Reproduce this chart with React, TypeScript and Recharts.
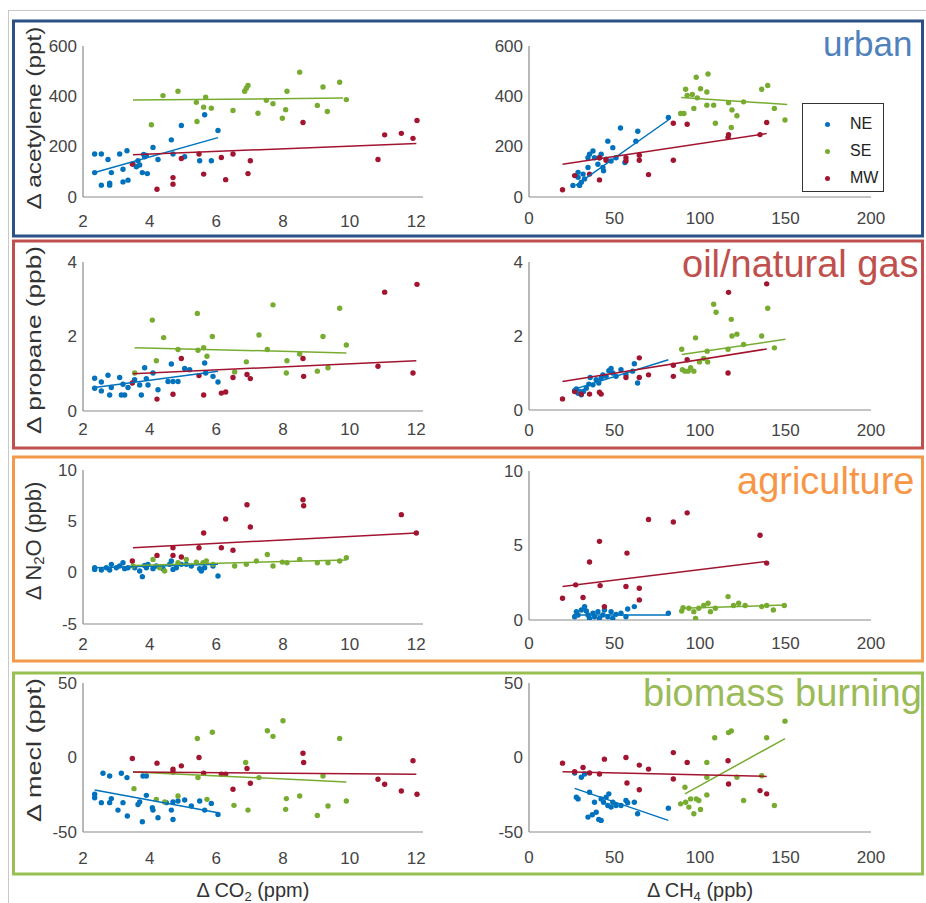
import React from 'react';
import { ScatterChart, Scatter, XAxis, YAxis } from 'recharts';

type Pt = [number, number];

const FONT = '"Liberation Sans", Arial, Helvetica, sans-serif';
const NE_COLOR = '#0072bd';
const SE_COLOR = '#77ac30';
const MW_COLOR = '#a2142f';

// tick labels
const co2Ticks = [2, 4, 6, 8, 10, 12];
const ch4Ticks = [0, 50, 100, 150, 200];
const acetyleneTicks = [0, 200, 400, 600];
const propaneTicks = [0, 2, 4];
const n2oTicksLeft = [-5, 0, 5, 10];
const n2oTicksRight = [0, 5, 10];
const meclTicks = [-50, 0, 50];

// ---- acetylene vs CO2 ----
const acCO2_NE: Pt[] = [[2.35,171],[2.35,97],[2.55,171],[2.75,149],[2.55,47],[2.8,47],[2.8,55],[2.85,97],[3.1,171],[3.2,110],[3.32,184],[3.2,60],[3.35,67],[3.5,131],[3.65,144],[3.7,127],[3.78,97],[3.82,169],[3.85,160],[3.93,93],[4.1,197],[4.25,149],[4.65,227],[4.7,171],[4.95,284],[5.05,160],[5.5,144],[5.65,327],[5.85,144],[6.05,264],[3.6,120],[3.9,165]];
const acCO2_SE: Pt[] = [[4.05,287],[4.4,403],[4.85,420],[5.4,376],[5.42,300],[5.68,397],[5.62,357],[5.85,353],[6.5,344],[6.85,420],[6.95,443],[6.9,432],[7.25,333],[7.5,384],[7.7,371],[7.98,313],[8.08,347],[8.12,420],[8.5,496],[9.03,364],[9.2,437],[9.33,340],[9.7,456],[9.9,387]];
const acCO2_MW: Pt[] = [[3.48,131],[4.22,31],[4.7,77],[4.7,51],[4.95,153],[5.48,171],[5.62,91],[6.15,157],[6.28,69],[6.5,171],[6.95,93],[7.02,144],[8.6,296],[10.85,149],[11.05,247],[11.55,253],[11.9,233],[12.02,304]];
const acCO2_fits: Pt[][] = [[[2.35,97],[6.05,236]], [[3.5,385],[9.8,393]], [[3.5,168],[12,213]]];

// ---- acetylene vs CH4 ----
const acCH4_NE: Pt[] = [[25.7,46],[28.7,78],[28.7,98],[29.6,46],[30.6,59],[31.6,91],[32.5,72],[34.5,117],[34.5,156],[35.4,170],[37.4,183],[38.3,156],[40.3,130],[41.2,156],[42.2,170],[43.2,117],[43.6,104],[45.1,150],[46.1,222],[48,143],[49,196],[50.9,156],[53.5,274],[56.1,137],[62.5,222],[63.6,261],[81.5,316]];
const acCH4_SE: Pt[] = [[88.7,332],[90.6,332],[91.6,428],[92.5,404],[95.5,407],[96.4,352],[97.8,476],[98.4,394],[100.3,430],[104,417],[104.7,489],[104,365],[108,365],[109,293],[116.7,375],[118.3,276],[118.7,346],[121.6,323],[125.5,378],[136.1,428],[139.6,443],[143.5,352],[149.7,306]];
const acCH4_MW: Pt[] = [[19.6,29],[26.7,85],[35.4,91],[41.2,68],[41.2,156],[45.1,146],[56.7,156],[56.7,143],[64.5,166],[64.5,146],[69.9,89],[84.4,293],[84.4,146],[92.5,289],[116.4,237],[116.7,248],[135.1,248],[139,296]];
const acCH4_fits: Pt[][] = [[[27.3,46],[81.5,306]], [[89,395],[151,368]], [[19.6,130],[139,252]]];

// ---- propane vs CO2 ----
const prCO2_NE: Pt[] = [[2.35,0.88],[2.35,0.61],[2.55,0.78],[2.55,0.54],[2.75,0.96],[2.8,0.43],[2.85,0.63],[3.1,0.9],[3.15,0.43],[3.2,0.72],[3.25,0.43],[3.35,0.63],[3.55,0.84],[3.7,0.7],[3.75,0.43],[3.85,1.16],[3.9,0.87],[3.95,0.7],[4.1,1.02],[4.25,0.57],[4.55,0.79],[4.65,1.26],[4.7,0.79],[4.85,0.79],[5.05,1.14],[5.2,1.11],[5.65,1.29],[5.68,1.02],[5.9,0.93],[6.05,0.78]];
const prCO2_SE: Pt[] = [[3.55,1.02],[4.08,2.44],[4.2,1.35],[4.42,1.97],[4.85,1.65],[5.43,2.62],[5.45,1.63],[5.62,1.7],[5.72,1.47],[5.88,2.0],[6.55,1.05],[6.9,1.32],[7.28,2.04],[7.53,1.65],[7.7,2.85],[8.12,1.35],[8.1,1.02],[8.5,1.53],[9.03,1.07],[9.2,2.0],[9.35,1.16],[9.7,2.76],[9.9,1.77]];
const prCO2_MW: Pt[] = [[3.48,0.75],[4.22,0.32],[4.7,0.45],[4.95,1.41],[5.48,0.95],[5.62,0.43],[6.15,0.48],[6.28,0.51],[6.5,0.9],[6.92,0.98],[7.02,0.87],[8.6,1.41],[8.62,0.93],[10.85,1.2],[11.05,3.19],[11.9,1.02],[12.02,3.4]];
const prCO2_fits: Pt[][] = [[[2.35,0.63],[6.05,1.07]], [[3.55,1.7],[9.9,1.56]], [[3.5,1.0],[12,1.35]]];

// ---- propane vs CH4 ----
const prCH4_NE: Pt[] = [[26.7,0.52],[27.7,0.57],[28.7,0.45],[29.6,0.5],[30.6,0.41],[31.9,0.5],[33.5,0.59],[35,0.7],[35.8,0.88],[37.4,0.68],[39.3,0.82],[40.8,0.73],[42.2,0.86],[43.2,0.95],[45.1,0.91],[46.7,1.06],[48,1.12],[49,1.0],[50.9,0.91],[53.8,1.09],[56.7,0.95],[60.6,1.05],[61.6,1.25],[63.5,0.73]];
const prCH4_SE: Pt[] = [[89.3,1.64],[89.7,1.09],[91.2,1.05],[93.1,1.05],[94.5,1.14],[96.4,1.05],[97.4,1.95],[99.7,1.3],[102.2,1.39],[104.2,1.59],[104.5,1.3],[108,2.86],[109.4,2.64],[116.4,1.64],[118.3,2.45],[118.7,2.0],[121.6,2.05],[125.5,1.77],[136.1,2.0],[139.6,2.75],[143.5,1.68]];
const prCH4_MW: Pt[] = [[19.6,0.3],[26.7,0.5],[30.6,0.43],[35.4,0.43],[41.2,0.48],[42.2,0.43],[56.7,0.88],[64.5,1.41],[64.5,0.88],[69.9,0.95],[84.4,1.21],[84.4,0.91],[92.5,1.36],[116.7,3.18],[116.4,1.0],[139,3.41]];
const prCH4_fits: Pt[][] = [[[25.7,0.55],[81.5,1.36]], [[89.3,1.5],[150,1.91]], [[19.6,0.77],[139,1.65]]];

// ---- N2O vs CO2 ----
const n2CO2_NE: Pt[] = [[2.35,0.48],[2.35,0.32],[2.55,0.26],[2.7,0.48],[2.8,0.26],[2.85,0.81],[3.0,0.48],[3.1,0.65],[3.2,0.97],[3.25,0.39],[3.35,0.48],[3.55,0.48],[3.7,0.16],[3.78,-0.39],[3.85,0.71],[3.9,0.48],[3.95,0.81],[4.1,0.39],[4.2,0.65],[4.4,0.39],[4.6,0.81],[4.65,1.13],[4.7,0.32],[4.8,0.48],[4.95,0.81],[5.1,0.81],[5.25,0.65],[5.5,0.39],[5.55,0.16],[5.65,0.48],[5.9,0.65],[6.05,-0.32]];
const n2CO2_SE: Pt[] = [[3.5,0.65],[4.1,1.29],[4.3,0.48],[4.45,0.16],[4.85,0.97],[5.1,1.29],[5.4,1.03],[5.6,0.97],[5.7,1.13],[5.9,0.81],[6.55,0.65],[6.9,0.81],[7.2,1.13],[7.53,1.77],[7.7,0.65],[7.98,1.03],[8.12,0.97],[8.5,1.29],[9.03,0.97],[9.35,0.97],[9.7,1.13],[9.9,1.45]];
const n2CO2_MW: Pt[] = [[3.48,1.13],[4.22,1.68],[4.7,2.42],[4.7,1.68],[4.95,1.52],[5.48,2.42],[5.62,3.87],[6.15,2.42],[6.28,5.23],[6.5,2.19],[6.92,6.61],[7.02,4.45],[8.6,7.1],[8.62,6.52],[11.55,5.65],[12.0,3.87]];
const n2CO2_fits: Pt[][] = [[[2.35,0.48],[6.05,0.81]], [[3.5,0.71],[9.9,1.23]], [[3.5,2.42],[12,3.87]]];

// ---- N2O vs CH4 ----
const n2CH4_NE: Pt[] = [[26.7,0.22],[27.7,0.56],[28.7,0.34],[30.6,0.67],[32.5,0.9],[33.5,0.6],[34.5,0.34],[35.4,0.11],[37.4,0.45],[38.3,0.22],[40.3,0.56],[41.2,0.11],[43.2,0.34],[44.1,0.67],[46.1,0.22],[48,0.56],[49,0.11],[50.9,0.38],[53.8,0.45],[56.7,0.22],[57.7,0.74],[61.6,0.9],[81.5,0.45]];
const n2CH4_SE: Pt[] = [[89.3,0.6],[90.1,0.83],[93.5,0.79],[96.4,0.56],[97.4,0.11],[99.3,0.79],[102.2,0.97],[104.7,1.12],[106.1,0.56],[109,0.79],[116.4,1.57],[119.6,0.97],[122.6,1.12],[126.4,0.97],[136.1,0.9],[139,0.97],[142.9,0.67],[149.3,0.97]];
const n2CH4_MW: Pt[] = [[19.6,1.46],[27.3,2.36],[31.6,1.51],[35.4,3.89],[41.2,5.28],[41.6,2.31],[44.1,0.9],[57.3,4.49],[56.7,2.25],[64.5,2.13],[64.5,1.35],[69.9,6.74],[84.4,6.58],[92.5,7.19],[135.1,5.69],[139,3.82]];
const n2CH4_fits: Pt[][] = [[[25.7,0.34],[81.5,0.34]], [[89.3,0.79],[150,1.01]], [[19.6,2.25],[139,3.93]]];

// ---- mecl vs CO2 ----
const mcCO2_NE: Pt[] = [[2.35,-24.7],[2.35,-27],[2.55,-30.3],[2.6,-10.6],[2.8,-12.4],[2.8,-30.3],[2.85,-27.6],[3.05,-35.3],[3.15,-10.6],[3.2,-30.3],[3.32,-13.5],[3.33,-39.3],[3.65,-31.5],[3.7,-29.9],[3.78,-43.1],[3.8,-12.4],[3.9,-12.4],[3.9,-25.4],[4.08,-33.7],[4.1,-35.3],[4.25,-40.4],[4.5,-30.3],[4.65,-35.3],[4.7,-41.6],[4.7,-29.9],[4.85,-29.2],[5.05,-28.5],[5.25,-32.6],[5.5,-29.2],[5.65,-35.3],[5.85,-30.8],[6.05,-38.2]];
const mcCO2_SE: Pt[] = [[3.53,-20.9],[4.2,-28.1],[4.45,-29.9],[4.85,-25.8],[5.43,12.8],[5.45,-13.5],[5.72,-28.1],[5.88,16.9],[6.53,-32.1],[6.88,-3.4],[6.95,-35.3],[7.28,-13.5],[7.53,18],[7.7,14.2],[8.0,24.7],[8.1,-27.6],[8.08,-34.8],[8.5,-25.8],[9.03,-38.9],[9.2,-12.4],[9.35,-32.6],[9.7,12.8],[9.9,-29.2]];
const mcCO2_MW: Pt[] = [[3.48,-0.7],[4.22,-3.8],[4.7,-7.9],[4.7,-9.7],[4.95,-5.6],[5.48,0],[5.62,-10.6],[6.15,-11.2],[6.28,-11.2],[6.5,-21.3],[6.92,-7.4],[7.02,-17.3],[8.6,2.9],[8.62,-3.4],[10.85,-14.6],[11.05,-18],[11.55,-22.5],[11.9,-2.2],[12.02,-24.7]];
const mcCO2_fits: Pt[][] = [[[2.35,-21.8],[6.05,-37.1]], [[3.5,-9.7],[9.9,-16.4]], [[3.5,-9.7],[12,-11.2]]];

// ---- mecl vs CH4 ----
const mcCH4_NE: Pt[] = [[26.7,-10.4],[27.7,-26.7],[28.7,-27.8],[30.6,-13.3],[32.5,-11.1],[34.5,-40],[35.4,-23.3],[37,-38.4],[38.3,-30],[39.3,-36.7],[40.8,-41.6],[42.2,-27.8],[42.2,-42.2],[43.6,-30],[45.1,-26.7],[46.1,-32.2],[46.7,-24.4],[48,-33.3],[49,-30],[50.9,-32.2],[53.8,-32.2],[56.7,-28.9],[57.7,-30.4],[61.6,-30],[63.5,-37.8],[81.5,-34]];
const mcCH4_SE: Pt[] = [[88.7,-31.1],[91.2,-20],[91.6,-30],[93.5,-33.3],[94.5,-27.8],[96.4,-37.8],[97.8,-27.8],[99.3,-28.9],[100.3,-34.9],[104,-3.3],[104,-13.3],[104,-25.1],[108.6,13.3],[116.7,16.7],[118.3,17.8],[121.6,-13.3],[125.5,-28.9],[136.1,-12.2],[139,13.3],[143.5,-32.2],[149.7,24.4]];
const mcCH4_MW: Pt[] = [[19.6,-3.8],[26.7,-9.6],[31.6,-6.7],[35.4,-10.4],[41.2,-11.1],[44.1,-1.1],[56.7,0],[57.3,-17.1],[64.5,-5.1],[64.5,-21.6],[69.9,-7.8],[84.4,3.3],[84.4,-14.4],[92.5,-3.3],[116.4,-2.2],[116.7,-17.8],[135.1,-22.2],[139,-24.4]];
const mcCH4_fits: Pt[][] = [[[26.7,-20.7],[81.5,-42.2]], [[91.2,-24.4],[149.7,12.7]], [[19.6,-9.6],[139,-12.7]]];

interface PanelDef {
  left: number; top: number; w: number; h: number;
  xDomain: [number, number]; xTicks: number[];
  yDomain: [number, number]; yTicks: number[];
  series: Pt[][]; fits: Pt[][];
  xTickOff: number;
}

const L = { left: 83, w: 340, xDomain: [2, 12.2] as [number, number], xTicks: co2Ticks };
const R = { left: 529, w: 342, xDomain: [0, 200] as [number, number], xTicks: ch4Ticks };

const panels: PanelDef[] = [
  { ...L, top: 46, h: 151, yDomain: [0, 600], yTicks: acetyleneTicks, series: [acCO2_NE, acCO2_SE, acCO2_MW], fits: acCO2_fits, xTickOff: 24 },
  { ...R, top: 46, h: 151, yDomain: [0, 600], yTicks: acetyleneTicks, series: [acCH4_NE, acCH4_SE, acCH4_MW], fits: acCH4_fits, xTickOff: 21 },
  { ...L, top: 262, h: 149, yDomain: [0, 4], yTicks: propaneTicks, series: [prCO2_NE, prCO2_SE, prCO2_MW], fits: prCO2_fits, xTickOff: 18 },
  { ...R, top: 262, h: 148, yDomain: [0, 4], yTicks: propaneTicks, series: [prCH4_NE, prCH4_SE, prCH4_MW], fits: prCH4_fits, xTickOff: 20 },
  { ...L, top: 470, h: 154, yDomain: [-5, 10], yTicks: n2oTicksLeft, series: [n2CO2_NE, n2CO2_SE, n2CO2_MW], fits: n2CO2_fits, xTickOff: 20 },
  { ...R, top: 471, h: 149, yDomain: [0, 10], yTicks: n2oTicksRight, series: [n2CH4_NE, n2CH4_SE, n2CH4_MW], fits: n2CH4_fits, xTickOff: 23 },
  { ...L, top: 683, h: 149, yDomain: [-50, 50], yTicks: meclTicks, series: [mcCO2_NE, mcCO2_SE, mcCO2_MW], fits: mcCO2_fits, xTickOff: 26 },
  { ...R, top: 683, h: 149, yDomain: [-50, 50], yTicks: meclTicks, series: [mcCH4_NE, mcCH4_SE, mcCH4_MW], fits: mcCH4_fits, xTickOff: 25 },
];

const colors = [NE_COLOR, SE_COLOR, MW_COLOR];
const regions = ['NE', 'SE', 'MW'];

const toObj = (a: Pt[]) => a.map(([x, y]) => ({ x, y }));
const NoDot = () => <g />;

const YW = 60, MT = 14, MR = 16, XH = 44;

function Panel({ p }: { p: PanelDef }) {
  return (
    <div style={{ position: 'absolute', left: p.left - YW, top: p.top - MT }}>
      <ScatterChart width={YW + p.w + MR} height={MT + p.h + XH} margin={{ top: MT, right: MR, bottom: 0, left: 0 }}>
        <XAxis
          type="number" dataKey="x" domain={p.xDomain} ticks={p.xTicks} allowDataOverflow
          height={XH} tickLine={false} tickSize={0} tickMargin={0}
          axisLine={{ stroke: '#8a8a8a', strokeWidth: 1.2 }}
          tick={({ x, y, payload }: any) => (
            <text x={x} y={y + p.xTickOff} textAnchor="middle" dominantBaseline="central" fontSize={17} fill="#444" fontFamily={FONT}>
              {payload.value}
            </text>
          )}
        />
        <YAxis
          type="number" dataKey="y" domain={p.yDomain} ticks={p.yTicks} allowDataOverflow
          width={YW} tickLine={false} tickSize={0} tickMargin={0}
          axisLine={{ stroke: '#8a8a8a', strokeWidth: 1.2 }}
          tick={({ x, y, payload }: any) => (
            <text x={x - 6} y={y} textAnchor="end" dominantBaseline="central" fontSize={17} fill="#444" fontFamily={FONT}>
              {payload.value}
            </text>
          )}
        />
        {p.series.map((s, i) => (
          <Scatter
            key={'s' + i}
            data={toObj(s)}
            isAnimationActive={false}
            shape={(d: any) => <circle cx={d.cx} cy={d.cy} r={2.7} fill={colors[i]} />}
          />
        ))}
        {p.fits.map((f, i) => (
          <Scatter
            key={'f' + i}
            data={toObj(f)}
            isAnimationActive={false}
            line={{ stroke: colors[i], strokeWidth: 1.5 }}
            shape={NoDot}
            legendType="none"
          />
        ))}
      </ScatterChart>
    </div>
  );
}

const frames = [
  { y: 21, h: 215, color: '#2b5186' },
  { y: 241, h: 207, color: '#c0504d' },
  { y: 457, h: 204, color: '#f39a4a' },
  { y: 673, h: 201, color: '#98bf52' },
];

const titles = [
  { text: 'urban', x: 823, y: 43, size: 35, color: '#4f81bd' },
  { text: 'oil/natural gas', x: 682, y: 264, size: 38, color: '#c0504d' },
  { text: 'agriculture', x: 737, y: 481, size: 38, color: '#f79646' },
  { text: 'biomass burning', x: 643, y: 693, size: 38, color: '#9bbb59' },
];

export default function App() {
  return (
    <div style={{ position: 'absolute', left: 0, top: 0, width: 926, height: 903, background: '#fff', overflow: 'hidden', fontFamily: FONT }}>
      {panels.map((p, i) => <Panel key={i} p={p} />)}

      <svg width={926} height={903} style={{ position: 'absolute', left: 0, top: 0, pointerEvents: 'none' }}>
        <rect x={8.5} y={10.5} width={940} height={900} fill="none" stroke="#c8c8c8" strokeWidth={1} />
        {frames.map((f, i) => (
          <rect key={i} x={13.5} y={f.y} width={909} height={f.h} fill="none" stroke={f.color} strokeWidth={3} />
        ))}
        {titles.map((t, i) => (
          <text key={i} x={t.x} y={t.y} fontSize={t.size} fill={t.color} fontFamily={FONT} dominantBaseline="central">{t.text}</text>
        ))}

        {/* y-axis titles */}
        <text transform="translate(33,118) rotate(-90)" textAnchor="middle" dominantBaseline="central" fontSize={21} fill="#333" fontFamily={FONT} textLength={183} lengthAdjust="spacingAndGlyphs">Δ acetylene (ppt)</text>
        <text transform="translate(33,340) rotate(-90)" textAnchor="middle" dominantBaseline="central" fontSize={21} fill="#333" fontFamily={FONT} textLength={188} lengthAdjust="spacingAndGlyphs">Δ propane (ppb)</text>
        <text transform="translate(33,541) rotate(-90)" textAnchor="middle" dominantBaseline="central" fontSize={22} fill="#333" fontFamily={FONT}>
          Δ N<tspan fontSize={15} dy={5}>2</tspan><tspan dy={-5}>O (ppb)</tspan>
        </text>
        <text transform="translate(33,750) rotate(-90)" textAnchor="middle" dominantBaseline="central" fontSize={21} fill="#333" fontFamily={FONT} textLength={144} lengthAdjust="spacingAndGlyphs">Δ mecl (ppt)</text>

        {/* x-axis titles */}
        <text x={253} y={890} textAnchor="middle" dominantBaseline="central" fontSize={20} fill="#333" fontFamily={FONT}>
          Δ CO<tspan fontSize={13} dy={6}>2</tspan><tspan dy={-6}> (ppm)</tspan>
        </text>
        <text x={700} y={890} textAnchor="middle" dominantBaseline="central" fontSize={20} fill="#333" fontFamily={FONT}>
          Δ CH<tspan fontSize={13} dy={6}>4</tspan><tspan dy={-6}> (ppb)</tspan>
        </text>
      </svg>

      {/* legend */}
      <div style={{ position: 'absolute', left: 802, top: 103, width: 82, height: 89, border: '1px solid #333', background: '#fff', boxSizing: 'border-box' }}>
        {regions.map((r, i) => (
          <div key={r} style={{ position: 'absolute', left: 0, top: 10 + i * 27, height: 20, display: 'flex', alignItems: 'center' }}>
            <span style={{ position: 'absolute', left: 22, width: 5, height: 5, borderRadius: '50%', background: colors[i] }} />
            <span style={{ position: 'absolute', left: 47, fontSize: 16, color: '#222', whiteSpace: 'nowrap' }}>{r}</span>
          </div>
        ))}
      </div>
    </div>
  );
}
